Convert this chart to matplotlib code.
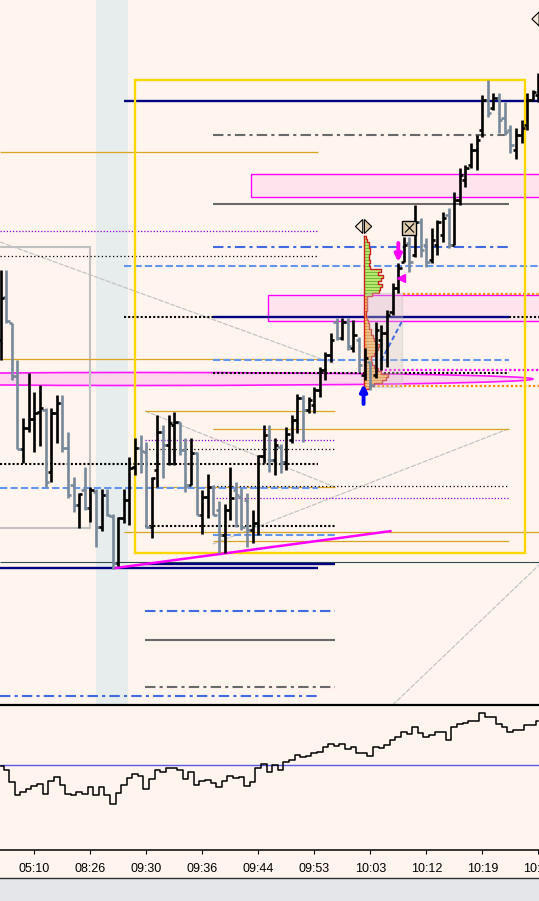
import matplotlib
matplotlib.use("Agg")
import matplotlib.pyplot as plt
from matplotlib.patches import Rectangle, Ellipse, Polygon
from matplotlib.lines import Line2D
import numpy as np

plt.rcParams['font.family'] = ['Liberation Sans Narrow', 'Liberation Sans', 'DejaVu Sans']

# ---------------- data ----------------
time_labels = ["05:10", "08:26", "09:30", "09:36", "09:44", "09:53", "10:03", "10:12", "10:19", "10:26"]
tick_bars = [6, 16, 26, 36, 46, 56, 66, 76, 86, 96]

bar_open = [365, 408, 382, 329, 256, 277, 286, 293, 295, 233,
            292, 302, 257, 220, 200, 215, 197, 213, 178, 210,
            189, 142, 187, 205, 238, 257, 253, 178, 235, 273,
            260, 280, 283, 255, 220, 252, 190, 208, 218, 195,
            170, 195, 215, 208, 205, 175, 182, 249, 270, 245,
            258, 243, 265, 285, 307, 295, 300, 315, 335, 350,
            383, 367, 383, 357, 365, 330, 343, 330, 365, 372,
            393, 417, 443, 462, 450, 483, 460, 445, 460, 470,
            490, 460, 505, 525, 540, 555, 575, 605, 597, 607,
            587, 575, 555, 570, 580, 605, 610]
bar_close = [407, 384, 329, 256, 277, 286, 292, 297, 223, 292,
             302, 257, 210, 200, 211, 197, 215, 178, 210, 190,
             142, 187, 205, 237, 257, 254, 178, 227, 273, 260,
             282, 283, 255, 220, 252, 190, 208, 218, 190, 170,
             195, 207, 210, 178, 175, 182, 249, 270, 245, 260,
             243, 271, 285, 307, 295, 305, 315, 335, 350, 365,
             367, 383, 359, 370, 340, 347, 320, 375, 372, 390,
             417, 437, 460, 443, 483, 455, 443, 465, 483, 487,
             460, 505, 530, 537, 555, 565, 605, 592, 607, 585,
             573, 560, 570, 577, 605, 613, 625]
bar_high = [435, 435, 382, 345, 287, 332, 313, 320, 297, 297,
            310, 310, 273, 228, 212, 238, 218, 216, 216, 216,
            191, 188, 216, 248, 267, 270, 263, 228, 290, 280,
            290, 293, 283, 267, 267, 253, 215, 231, 220, 204,
            201, 238, 223, 217, 212, 195, 250, 280, 280, 267,
            261, 278, 290, 311, 310, 308, 318, 338, 353, 372,
            387, 387, 387, 385, 368, 357, 343, 383, 380, 395,
            422, 442, 468, 468, 500, 487, 467, 477, 485, 493,
            497, 513, 537, 540, 562, 570, 610, 625, 612, 612,
            603, 580, 577, 585, 612, 615, 632]
bar_low = [345, 382, 325, 256, 242, 273, 253, 259, 218, 223,
           262, 253, 207, 193, 177, 195, 183, 158, 174, 189,
           136, 139, 182, 180, 230, 232, 177, 167, 218, 227,
           240, 240, 250, 213, 220, 190, 171, 187, 190, 152,
           152, 185, 178, 175, 158, 162, 170, 242, 233, 230,
           232, 235, 262, 272, 263, 292, 292, 308, 325, 343,
           365, 365, 355, 353, 333, 325, 315, 327, 335, 338,
           390, 412, 443, 433, 448, 448, 438, 442, 450, 463,
           457, 460, 500, 518, 537, 535, 568, 588, 595, 572,
           570, 552, 546, 562, 575, 605, 603]

cum_delta = [-50, -150, -510, -890, -790, -700, -630, -560, -860, -480,
             -360, -600, -850, -900, -810, -860, -660, -890, -660, -890,
             -1160, -830, -590, -400, -270, -330, -710, -430, -160, -210,
             -100, -100, -150, -410, -230, -590, -490, -450, -530, -660,
             -470, -330, -390, -350, -630, -510, -90, 30, -210, -20,
             -150, 60, 120, 280, 220, 250, 340, 370, 520, 600,
             540, 600, 450, 510, 330, 330, 240, 500, 470, 580,
             720, 810, 950, 890, 1080, 930, 790, 850, 960, 960,
             720, 1090, 1170, 1220, 1260, 1260, 1500, 1390, 1390, 1170,
             1080, 940, 1020, 1020, 1150, 1150, 1260]

# price levels (price units)
navy_levels = [604, 388, 141.5, 137.3]
slate_levels = [143.5]
grey_solid_levels = [501.5, 65]
grey_dashdot_levels = [570, 18]
gold_levels = [553, 346, 294, 276, 218, 173, 164]
blue_dashdot_levels = [458, 94.3, 9]
blue_dashed_levels = [439, 345, 217, 170]
purple_dotted_levels = [474, 265, 207]
black_dotted_thin_levels = [449, 256, 219.4]
black_dotted_thick_levels = [388, 388, 332, 241, 179.4]
orange_dotted_levels = [411, 319]
magenta_dotted_levels = [335]

zone_bounds = [(508, 531), (384, 410)]          # pink supply/demand zones
band_centre, band_height = 326, 13               # elongated pink ellipse
grey_box_bounds = (177, 458)
session_box_bounds = (152, 625)

# trend / diagonal lines : (bar, price) end points
magenta_trend = [(20.1, 136.7), (69.8, 174)]
grey_diagonals = [[(-0.125, 463), (59.7, 341)],
                  [(25.8, 294), (59.7, 218)],
                  [(37.9, 161), (90.6, 276)],
                  [(70.0, 0), (96.125, 140)]]

# volume profile rows (top price 468, step 3)
profile_top = 468
profile_step = 3
profile_volume = [2, 3, 5, 5, 6, 6, 5, 5, 6, 5, 6, 17, 14, 19, 17, 14, 18, 16, 15, 8,
                  3, 3, 3, 3, 3, 2, 2, 3, 4, 5, 5, 7, 7, 9, 10, 12, 15, 14, 12, 10,
                  7, 7, 8, 10, 14, 17, 24, 22, 18, 10, 5]
profile_split = 410   # above: buy (green), below: sell (orange)

# ---------------- figure ----------------
BG = '#FFF5EE'
H = 901.0
fig = plt.figure(figsize=(5.39, 9.01), dpi=100, facecolor=BG)
ax = fig.add_axes([0, (H - 705) / H, 1, 705 / H], facecolor=BG)
ax2 = fig.add_axes([0, (H - 850) / H, 1, 145 / H], facecolor=BG, sharex=ax)

LEFT, RIGHT = -0.125, 96.125
PX = 5.6  # pixels per bar
ax.set_xlim(LEFT, RIGHT)
ax.set_ylim(0, 705)
ax.axis('off')

# background band
ax.add_patch(Rectangle((17.0, 0), 5.7, 705, fc='#E6EDEC', ec='none', zorder=0.5))

# pink zones
for (lo, hi), x0 in zip(zone_bounds, [44.7, 47.7]):
    ax.add_patch(Rectangle((x0, lo), RIGHT + 2 - x0, hi - lo, fc='#FFE4EE', ec='#FF00FF', lw=1.0, zorder=1))

# pink ellipse band
cx = 25
ax.add_patch(Ellipse((cx, band_centre), 2 * (95.05 - cx), band_height, fc='#FFD3EC', ec='#FF00FF',
                     lw=1.2, alpha=0.9, zorder=1.2))

# grey box (left)
ax.add_patch(Rectangle((LEFT - 3, grey_box_bounds[0]), 15.95 - (LEFT - 3), grey_box_bounds[1] - grey_box_bounds[0],
                       fill=False, ec='#C0C0C0', lw=1.5, zorder=1.5))

# diagonals
for seg in grey_diagonals:
    (x0, y0), (x1, y1) = seg
    ax.plot([x0, x1], [y0, y1], color='#C4C4C4', lw=0.9, ls=(0, (4, 1)), zorder=1.6)

# styles
st = {
    'navy': dict(color='#000080', lw=1.7, ls='-'),
    'slate': dict(color='#2F4F4F', lw=0.8, ls='-'),
    'grey': dict(color='#696969', lw=1.5, ls='-'),
    'greydd': dict(color='#696969', lw=1.5, ls=(0, (5, 2, 1.5, 2))),
    'gold': dict(color='#DAA520', lw=0.9, ls='-'),
    'bluedd': dict(color='#4169E1', lw=1.5, ls=(0, (5, 2, 1.5, 2))),
    'bluedash': dict(color='#6495ED', lw=1.5, ls=(0, (3.5, 1.5))),
    'purpledot': dict(color='#9400D3', lw=0.9, ls=(0, (1, 1.5))),
    'blkdot': dict(color='black', lw=0.9, ls=(0, (1, 2))),
    'blkdotthick': dict(color='black', lw=1.5, ls=(0, (1, 1))),
    'orangedot': dict(color='#FF8C00', lw=1.6, ls=(0, (1, 1))),
    'magdot': dict(color='#FF00FF', lw=1.6, ls=(0, (1, 1))),
}

def level(price, x0, x1, key, z=2):
    ax.plot([x0, x1], [price, price], zorder=z, solid_capstyle='butt', dash_capstyle='butt', **st[key])

A, B, C = 22.0, 25.8, 37.9
E1, E2, E3 = 56.7, 59.7, 90.8

for p, (x0, x1) in zip(navy_levels, [(A, RIGHT), (C, E3), (B, E2), (LEFT, E1)]):
    level(p, x0, x1, 'navy', 2.2)
for p in slate_levels:
    level(p, LEFT, RIGHT, 'slate')
for p, (x0, x1) in zip(grey_solid_levels, [(C, E3), (B, E2)]):
    level(p, x0, x1, 'grey')
for p, (x0, x1) in zip(grey_dashdot_levels, [(C, 90.1), (B, E2)]):
    level(p, x0, x1, 'greydd')
for p, (x0, x1) in zip(gold_levels, [(LEFT, E1), (LEFT, E1), (B, E2), (C, E3), (B, E2), (A, RIGHT), (C, E3)]):
    level(p, x0, x1, 'gold')
for p, (x0, x1) in zip(blue_dashdot_levels, [(C, E3), (B, E2), (LEFT, E1)]):
    level(p, x0, x1, 'bluedd')
for p, (x0, x1) in zip(blue_dashed_levels, [(A, RIGHT), (C, E3), (LEFT, E1), (C, E2)]):
    level(p, x0, x1, 'bluedash')
for p, (x0, x1) in zip(purple_dotted_levels, [(LEFT, E1), (B, E2), (C, E3)]):
    level(p, x0, x1, 'purpledot')
for p, (x0, x1) in zip(black_dotted_thin_levels, [(LEFT, E1), (B, E2), (C, E3)]):
    level(p, x0, x1, 'blkdot')
for p, (x0, x1) in zip(black_dotted_thick_levels, [(A, C), (E3, RIGHT), (C, E3), (LEFT, E1), (B, E2)]):
    level(p, x0, x1, 'blkdotthick')
for p, (x0, x1) in zip(orange_dotted_levels, [(71.8, RIGHT), (66.5, RIGHT)]):
    level(p, x0, x1, 'orangedot')
for p in magenta_dotted_levels:
    level(p, 65.4, RIGHT, 'magdot')

# session (yellow) box
sb = session_box_bounds
ax.add_patch(Rectangle((23.98, sb[0]), 93.6 - 23.98, sb[1] - sb[0], fill=False, ec='#FFD700', lw=1.7, zorder=3))

# magenta trend line
(tx0, ty0), (tx1, ty1) = magenta_trend
ax.plot([tx0, tx1], [ty0, ty1], color='#FF00FF', lw=1.8, zorder=4, solid_capstyle='butt')

# volume profile
base = 64.9
n = len(profile_volume)
centres = profile_top - profile_step * np.arange(n)
widths = np.array(profile_volume) / PX
fcs = ['#B9E86C' if c > profile_split else '#FFBE70' for c in centres]
ecs = ['#6DB53A' if c > profile_split else '#E88A20' for c in centres]
ax.barh(centres, widths, left=base, height=profile_step, color=fcs, edgecolor=ecs, lw=0.6, zorder=3.5)
outline_x = [base]
outline_y = [centres[0] + profile_step / 2]
for c, w in zip(centres, widths):
    outline_x += [base + w, base + w]
    outline_y += [c + profile_step / 2, c - profile_step / 2]
outline_x.append(base)
outline_y.append(centres[-1] - profile_step / 2)
ax.plot(outline_x, outline_y, color='#CC2020', lw=1.0, zorder=3.6)
ax.plot([base, base], [centres[-1] - 1.5, centres[0] + 1.5], color='#CC2020', lw=1.0, zorder=3.6)

# translucent grey box around profile
ax.add_patch(Rectangle((65.4, 318), 6.3, 94, fc='#CFC8C8', ec='#BDBDBD', lw=1, alpha=0.35, zorder=3.7))
ax.plot([71.6, 67.8], [383, 343], color='#4169E1', lw=1.4, ls=(0, (2.5, 1.5)), zorder=3.8)

# OHLC bars
xs = np.arange(len(bar_open))
cols = ['#000000' if c >= o else '#778899' for o, c in zip(bar_open, bar_close)]
ax.vlines(xs, bar_low, bar_high, colors=cols, lw=1.9, zorder=5, capstyle='butt')
ax.hlines(bar_open, xs - 0.6, xs, colors=cols, lw=1.9, zorder=5, capstyle='butt')
ax.hlines(bar_close, xs, xs + 0.6, colors=cols, lw=1.9, zorder=5, capstyle='butt')

# icons
def diamond(cx, cy, hw, hh):
    ax.add_patch(Polygon([(cx - 0.15, cy + hh), (cx - hw, cy), (cx - 0.15, cy - hh)], closed=True,
                         fc='#F6E9DA', ec='black', lw=0.8, zorder=7))
    ax.add_patch(Polygon([(cx + 0.15, cy + hh), (cx + hw, cy), (cx + 0.15, cy - hh)], closed=True,
                         fc='#DCC4A2', ec='black', lw=0.8, zorder=7))

diamond(64.8, 478.5, 1.45, 7)
diamond(96.3, 686, 1.45, 7)

bx, by, bw, bh = 73.0, 477, 1.25, 7
ax.add_patch(Rectangle((bx - bw, by - bh), 2 * bw, 2 * bh, fc='#E2CFB2', ec='black', lw=1.0, zorder=7))
ax.plot([bx - bw * 0.6, bx + bw * 0.6], [by + bh * 0.6, by - bh * 0.6], color='black', lw=0.8, zorder=7.1)
ax.plot([bx - bw * 0.6, bx + bw * 0.6], [by - bh * 0.6, by + bh * 0.6], color='black', lw=0.8, zorder=7.1)

ax.annotate('', xy=(71.0, 443), xytext=(71.0, 462),
            arrowprops=dict(arrowstyle='-|>', color='#FF00FF', lw=2.8, mutation_scale=10, shrinkA=0, shrinkB=0),
            zorder=8)
ax.annotate('', xy=(64.8, 321), xytext=(64.8, 301),
            arrowprops=dict(arrowstyle='-|>', color='#0000FF', lw=2.8, mutation_scale=10, shrinkA=0, shrinkB=0),
            zorder=8)
ax.plot([71.5], [427.5], marker='<', ms=6, color='#FF00FF', mec='#FF00FF', zorder=8)

# ---------------- indicator panel ----------------
ax2.set_ylim(-2486, 1733)
ax2.step(xs, cum_delta, where='mid', color='black', lw=1.1, zorder=3)
ax2.axhline(0, color='#5A5AE6', lw=1.0, zorder=2)
for s in ['left', 'right']:
    ax2.spines[s].set_visible(False)
ax2.spines['top'].set_linewidth(1.6)
ax2.spines['bottom'].set_linewidth(1.1)
ax2.set_yticks([])
ax2.set_xticks(tick_bars)
ax2.set_xticklabels(time_labels, fontsize=9)
ax2.tick_params(axis='x', direction='out', length=3.2, width=0.8, pad=6.5, colors='black')
ax2.set_xlim(LEFT, RIGHT)

# bottom grey strip
fig.patches.append(Rectangle((0, 0), 1, 23 / H, transform=fig.transFigure, fc='#E4E6E9', ec='none'))
fig.add_artist(Line2D([0, 1], [23 / H, 23 / H], transform=fig.transFigure, color='#303030', lw=1.0))

fig.savefig('out.png', dpi=100, facecolor=BG)
